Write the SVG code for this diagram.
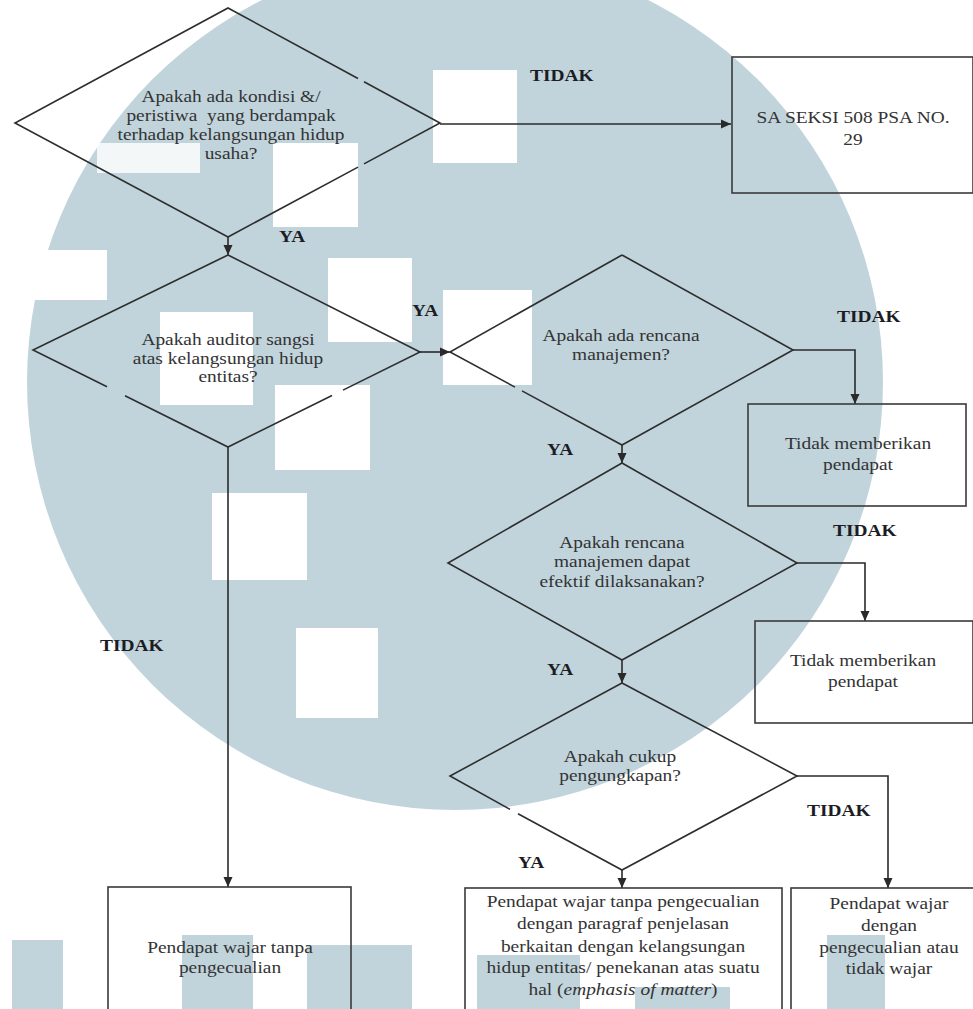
<svg xmlns="http://www.w3.org/2000/svg" width="973" height="1009" viewBox="0 0 973 1009">
<style>
.wm{fill:#c1d4dc}
.wh{fill:#ffffff}
.shape{fill:none;stroke:#2e2e2e;stroke-width:1.6;stroke-linejoin:miter}
.box{fill:none;stroke:#3a3a3a;stroke-width:1.6}
.edge{fill:none;stroke:#2a2a2a;stroke-width:1.6;marker-end:url(#arr)}
.t{font-family:"Liberation Serif","Times New Roman",serif;font-size:17px;fill:#333;text-anchor:middle}
.lb{font-family:"Liberation Serif","Times New Roman",serif;font-size:17px;font-weight:bold;fill:#1c1c24}
</style>
<defs>
<marker id="arr" markerWidth="10" markerHeight="10" refX="10" refY="5" orient="auto" markerUnits="userSpaceOnUse">
<path d="M0,0.5 L10,5 L0,9.5 Z" fill="#2a2a2a"/>
</marker>
</defs>
<rect width="973" height="1009" fill="#ffffff"/>
<g id="watermark">
<circle class="wm" cx="455" cy="382" r="428"/>
<rect class="wh" x="433" y="70" width="84" height="93"/>
<rect class="wh" x="273" y="143" width="85" height="84"/>
<rect class="wh" x="97" y="143" width="103" height="30" opacity="0.8"/>
<rect class="wh" x="30" y="250" width="77" height="50"/>
<rect class="wh" x="328" y="258" width="84" height="84"/>
<rect class="wh" x="160" y="312" width="93" height="93"/>
<rect class="wh" x="275" y="385" width="95" height="85"/>
<rect class="wh" x="443" y="290" width="89" height="95"/>
<rect class="wh" x="212" y="493" width="95" height="87"/>
<rect class="wh" x="296" y="628" width="82" height="90"/>
<rect class="wm" x="12" y="940" width="51" height="69"/>
<rect class="wm" x="182" y="935" width="71" height="74"/>
<rect class="wm" x="307" y="945" width="105" height="64"/>
<rect class="wm" x="477" y="955" width="103" height="54"/>
<rect class="wm" x="635" y="987" width="95" height="22"/>
<rect class="wm" x="827" y="935" width="58" height="74"/>
</g>
<g id="connectors">
<path class="edge" d="M440,124 L731,124"/>
<path class="edge" d="M228,237 L228,255"/>
<path class="edge" d="M420,352 L450,352"/>
<path class="edge" d="M793,350 L855,350 L855,404"/>
<path class="edge" d="M622,445 L622,463"/>
<path class="edge" d="M797,563 L865,563 L865,621"/>
<path class="edge" d="M622,660 L622,683"/>
<path class="edge" d="M797,776 L888,776 L888,888"/>
<path class="edge" d="M622,870 L622,888"/>
<path class="edge" d="M228,447 L228,887"/>
</g>
<g id="labels">
<text class="lb" transform="translate(530,81) scale(1.14,1)">TIDAK</text>
<text class="lb" transform="translate(279,242) scale(1.14,1)">YA</text>
<text class="lb" transform="translate(412,316) scale(1.14,1)">YA</text>
<text class="lb" transform="translate(837,322) scale(1.14,1)">TIDAK</text>
<text class="lb" transform="translate(547,455) scale(1.14,1)">YA</text>
<text class="lb" transform="translate(833,536) scale(1.14,1)">TIDAK</text>
<text class="lb" transform="translate(547,675) scale(1.14,1)">YA</text>
<text class="lb" transform="translate(807,816) scale(1.14,1)">TIDAK</text>
<text class="lb" transform="translate(518,868) scale(1.14,1)">YA</text>
<text class="lb" transform="translate(100,651) scale(1.14,1)">TIDAK</text>
</g>
<g id="d1">
<path class="shape" d="M228,237 L15,123 L228,8 L358,78.5 M364,81.8 L440,123 L364,163.9 M358,167.1 L228,237"/>
<text class="t" transform="translate(231,0) scale(1.14,1)"><tspan x="0" y="102">Apakah ada kondisi &amp;/</tspan><tspan x="0" y="121">peristiwa&#160; yang berdampak</tspan><tspan x="0" y="140">terhadap kelangsungan hidup</tspan><tspan x="0" y="159">usaha?</tspan></text>
</g>
<g id="b1">
<rect class="box" x="732" y="57" width="241" height="136"/>
<text class="t" transform="translate(853,0) scale(1.14,1)"><tspan x="0" y="123">SA SEKSI 508 PSA NO.</tspan><tspan x="0" y="145">29</tspan></text>
</g>
<g id="d2">
<path class="shape" d="M228,255 L420,352 L343,390.1 M332,395.5 L228,447 L125,395.8 M107,386.8 L33,350 L228,255"/>
<text class="t" transform="translate(228,0) scale(1.14,1)"><tspan x="0" y="345">Apakah auditor sangsi</tspan><tspan x="0" y="364">atas kelangsungan hidup</tspan><tspan x="0" y="382">entitas?</tspan></text>
</g>
<g id="d3">
<path class="shape" d="M622,255 L793,350 L622,445 L522,390.9 M515,387.1 L450,352 L622,255"/>
<text class="t" transform="translate(621,0) scale(1.14,1)"><tspan x="0" y="341">Apakah ada rencana</tspan><tspan x="0" y="360">manajemen?</tspan></text>
</g>
<g id="b2">
<rect class="box" x="748" y="404" width="218" height="102"/>
<text class="t" transform="translate(858,0) scale(1.14,1)"><tspan x="0" y="449">Tidak memberikan</tspan><tspan x="0" y="470">pendapat</tspan></text>
</g>
<g id="d4">
<path class="shape" d="M622,463 L797,563 L622,660 L448,563 Z"/>
<text class="t" transform="translate(622,0) scale(1.14,1)"><tspan x="0" y="548">Apakah rencana</tspan><tspan x="0" y="567">manajemen dapat</tspan><tspan x="0" y="587">efektif dilaksanakan?</tspan></text>
</g>
<g id="b3">
<rect class="box" x="755" y="621" width="218" height="102"/>
<text class="t" transform="translate(863,0) scale(1.14,1)"><tspan x="0" y="666">Tidak memberikan</tspan><tspan x="0" y="687">pendapat</tspan></text>
</g>
<g id="d5">
<path class="shape" d="M622,683 L797,776 L622,870 L518,813.8 M510,809.4 L450,776 L622,683"/>
<text class="t" transform="translate(620,0) scale(1.14,1)"><tspan x="0" y="762">Apakah cukup</tspan><tspan x="0" y="781">pengungkapan?</tspan></text>
</g>
<g id="b4">
<rect class="box" x="108" y="887" width="243" height="130"/>
<text class="t" transform="translate(230,0) scale(1.14,1)"><tspan x="0" y="953">Pendapat wajar tanpa</tspan><tspan x="0" y="973">pengecualian</tspan></text>
</g>
<g id="b5">
<rect class="box" x="465" y="888" width="317" height="130"/>
<text class="t" transform="translate(623,0) scale(1.14,1)"><tspan x="0" y="907">Pendapat wajar tanpa pengecualian</tspan><tspan x="0" y="929">dengan paragraf penjelasan</tspan><tspan x="0" y="952">berkaitan dengan kelangsungan</tspan><tspan x="0" y="973">hidup entitas/ penekanan atas suatu</tspan><tspan x="0" y="995">hal (<tspan font-style="italic">emphasis of matter</tspan>)</tspan></text>
</g>
<g id="b6">
<rect class="box" x="791" y="888" width="200" height="130"/>
<text class="t" transform="translate(889,0) scale(1.14,1)"><tspan x="0" y="909">Pendapat wajar</tspan><tspan x="0" y="931">dengan</tspan><tspan x="0" y="953">pengecualian atau</tspan><tspan x="0" y="974">tidak wajar</tspan></text>
</g>
</svg>
